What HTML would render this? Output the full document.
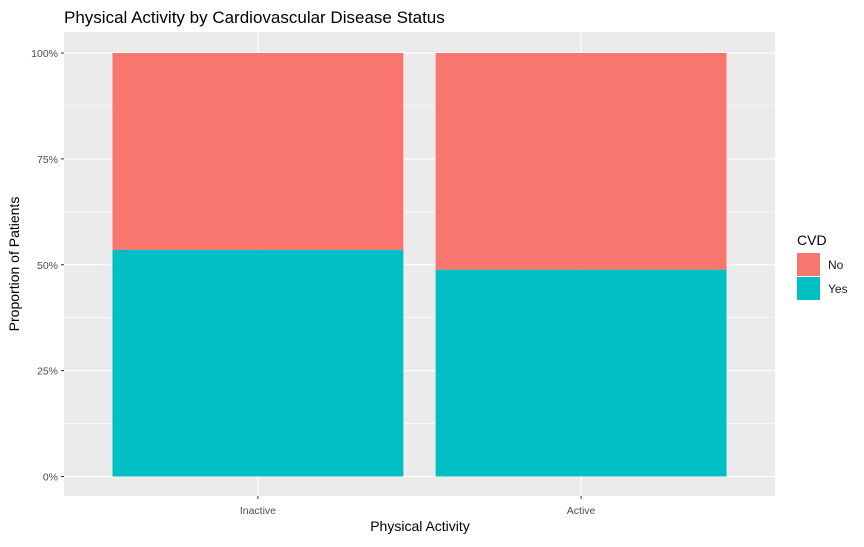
<!DOCTYPE html>
<html><head><meta charset="utf-8"><style>
body{margin:0;background:#fff;font-family:"Liberation Sans",Arial,sans-serif}
svg text{font-family:"Liberation Sans",Arial,sans-serif}
</style></head><body>
<svg id="chart" width="864" height="542" xmlns="http://www.w3.org/2000/svg">
<text x="64" y="23" font-size="17" fill="#000">Physical Activity by Cardiovascular Disease Status</text>
<rect x="64" y="32" width="711" height="464" fill="#ebebeb"/>
<g id="grid"></g><g id="bars"></g><g id="axes"></g>
<text x="420" y="531" font-size="14" text-anchor="middle" fill="#000">Physical Activity</text>
<text transform="translate(19,264) rotate(-90)" font-size="14" text-anchor="middle" fill="#000">Proportion of Patients</text>
<g>
<text x="797" y="245" font-size="14" fill="#000">CVD</text>
<rect x="797" y="253" width="23" height="23" fill="#f8766d"/>
<text x="828" y="269" font-size="12" fill="#1a1a1a">No</text>
<rect x="797" y="277" width="23" height="23" fill="#00bfc4"/>
<text x="828" y="293" font-size="12" fill="#1a1a1a">Yes</text>
</g>
</svg>
<script>
const categories = ["Inactive", "Active"];
const yesShare = [0.535, 0.488];
const noShare = [0.465, 0.512];
const yTicks = [0, 0.25, 0.5, 0.75, 1];
const yTickLabels = ["0%", "25%", "50%", "75%", "100%"];
const NS = "http://www.w3.org/2000/svg";
const y0 = 476.5, y1 = 53;
function y(v){ return y0 - v*(y0-y1); }
const left = 64, right = 775, band = (right-left)/ (categories.length+0.2);
function xc(i){ return left + band*0.6 + band*i; }
function mk(tag, attrs, parent){ const e=document.createElementNS(NS,tag); for(const k in attrs) e.setAttribute(k,attrs[k]); document.getElementById(parent).appendChild(e); return e; }
// minor grid
for(let i=0;i<yTicks.length-1;i++){
  const v=(yTicks[i]+yTicks[i+1])/2;
  const l=mk('line',{x1:left,x2:right,y1:y(v),y2:y(v),stroke:'#fff','stroke-width':0.6},'grid');
  
  
}
yTicks.forEach((v,i)=>{
  const l=mk('line',{x1:left,x2:right,y1:y(v),y2:y(v),stroke:'#fff','stroke-width':1.2},'grid');
  
  
  const t=mk('line',{x1:left-3,x2:left,y1:y(v),y2:y(v),stroke:'#333','stroke-width':1},'axes');
  
  
  const tx=mk('text',{x:left-6,y:y(v)+4,'font-size':10.5,'text-anchor':'end',fill:'#4d4d4d'},'axes');
  tx.textContent=yTickLabels[i];
  
  
});
categories.forEach((c,i)=>{
  const cx=xc(i), w=band*0.9;
  const g=mk('line',{x1:cx,x2:cx,y1:32,y2:496,stroke:'#fff','stroke-width':1.2},'grid');
  
  
  const rn=mk('rect',{x:cx-w/2,width:w,y:y(1),height:y(yesShare[i])-y(1),fill:'#f8766d'},'bars');
  
  
  const ry=mk('rect',{x:cx-w/2,width:w,y:y(yesShare[i]),height:y(0)-y(yesShare[i]),fill:'#00bfc4'},'bars');
  
  
  const t=mk('line',{x1:cx,x2:cx,y1:496,y2:499,stroke:'#333','stroke-width':1},'axes');
  
  
  const tx=mk('text',{x:cx,y:514,'font-size':10.5,'text-anchor':'middle',fill:'#4d4d4d'},'axes');
  tx.textContent=c;
  
  
});
</script>
</body></html>
